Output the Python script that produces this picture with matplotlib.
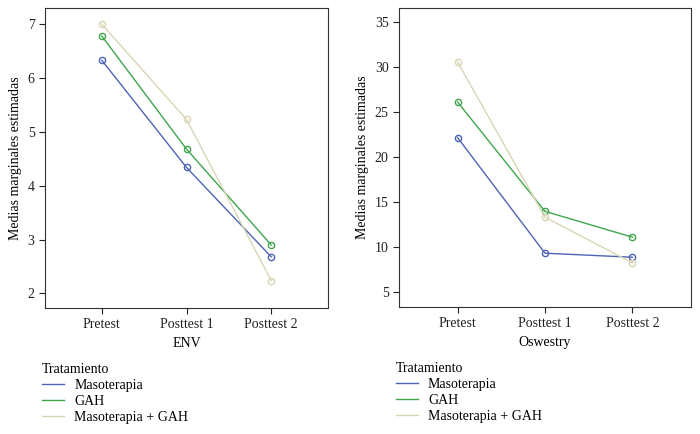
import matplotlib
matplotlib.use("Agg")
import matplotlib.pyplot as plt

# datos
momentos = ["Pretest", "Posttest 1", "Posttest 2"]
grupos = ["Masoterapia", "GAH", "Masoterapia + GAH"]
colores = ["#4f63b5", "#3ea64c", "#d9d5b4"]

env_maso = [6.33, 4.34, 2.68]
env_gah = [6.78, 4.68, 2.90]
env_mg = [7.00, 5.23, 2.24]

osw_maso = [22.2, 9.35, 8.9]
osw_gah = [26.15, 14.0, 11.13]
osw_mg = [30.6, 13.35, 8.27]

plt.rcParams['font.family'] = ['Liberation Serif', 'DejaVu Serif']

fig = plt.figure(figsize=(7, 4.34), dpi=100)
W, H = 700, 434


def panel(rect, series, xlabel, yticks, ylim):
    l, t, r, b = rect
    ax = fig.add_axes([l / W, 1 - b / H, (r - l) / W, (b - t) / H])
    x = range(len(momentos))
    for vals, c, nom in zip(series, colores, grupos):
        ax.plot(x, vals, color=c, lw=1.0, marker='o', ms=4.5,
                mfc='none', mec=c, mew=1.0, label=nom)
    ax.set_xlim(-0.67, 2.67)
    ax.set_ylim(*ylim)
    ax.set_yticks(yticks)
    ax.set_xticks(list(x))
    ax.set_xticklabels(momentos)
    ax.tick_params(labelsize=10, length=4, width=0.8, colors='#222222')
    ax.set_xlabel(xlabel, fontsize=10, labelpad=4)
    ax.set_ylabel("Medias marginales estimadas", fontsize=10)
    for s in ax.spines.values():
        s.set_linewidth(0.8)
        s.set_color('#333333')
    leg = ax.legend(loc='upper left', bbox_to_anchor=(-0.01, -0.183),
                    frameon=False, title="Tratamiento", fontsize=10,
                    title_fontsize=10, handlelength=1.6, handletextpad=0.7,
                    labelspacing=0.22, borderaxespad=0, borderpad=0)
    leg._legend_box.align = "left"
    for h in leg.legend_handles:
        h.set_marker('')
    return ax


panel((45, 8, 328, 308), [env_maso, env_gah, env_mg], "ENV",
      [2, 3, 4, 5, 6, 7], (1.73, 7.30))
panel((399, 8, 691, 307), [osw_maso, osw_gah, osw_mg], "Oswestry",
      [5, 10, 15, 20, 25, 30, 35], (3.37, 36.6))

fig.savefig("out.png", dpi=100)
